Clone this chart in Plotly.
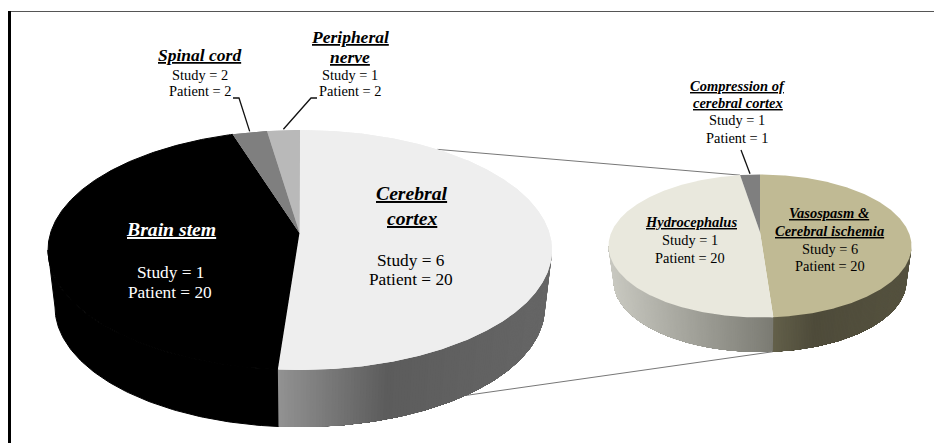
import math
import plotly.graph_objects as go

# ---------- data ----------
main_names = ["Cerebral cortex", "Brain stem", "Spinal cord", "Peripheral nerve"]
main_values = [51.4, 44.3, 2.2, 2.1]
sub_names = ["Vasospasm & Cerebral ischemia", "Hydrocephalus", "Compression of cerebral cortex"]
sub_values = [48.6, 49.3, 2.1]

main_label_lines = [
    ["Cerebral", "cortex"], ["Study = 6", "Patient = 20"],
    ["Brain stem"], ["Study = 1", "Patient = 20"],
    ["Spinal cord"], ["Study = 2", "Patient = 2"],
    ["Peripheral", "nerve"], ["Study = 1", "Patient = 2"],
]
sub_label_lines = [
    ["Vasospasm &", "Cerebral ischemia"], ["Study = 6", "Patient = 20"],
    ["Hydrocephalus"], ["Study = 1", "Patient = 20"],
    ["Compression of", "cerebral cortex"], ["Study = 1", "Patient = 1"],
]

# ---------- styles / geometry ----------
MAIN = dict(cx=300, top_cy=250, rx=252, ry=120, bot_cy=307, brx=245, bry=120, apex=(299.5, 233))
SUB = dict(cx=760, top_cy=246, rx=151.5, ry=71.5, bot_cy=281, brx=146.5, bry=71, apex=(760, 232))
main_colors = ["#eeeeee", "#000000", "#7f7f7f", "#b9b9b9"]
sub_colors = ["#c0ba94", "#e9e8dd", "#7f7f7f"]
FONT = "Liberation Serif"


def top_pt(g, t):
    r = math.radians(t)
    return g["cx"] + g["rx"] * math.sin(r), g["top_cy"] - g["ry"] * math.cos(r)


def bot_pt(g, t):
    r = math.radians(t)
    return g["cx"] + g["brx"] * math.sin(r), g["bot_cy"] - g["bry"] * math.cos(r)


def cumulative(values):
    total = sum(values)
    angs, acc = [], 0.0
    for v in values:
        angs.append((acc * 360 / total, (acc + v) * 360 / total))
        acc += v
    return angs


def lerp_color(stops, f):
    for (a, ca), (b, cb) in zip(stops, stops[1:]):
        if f <= b:
            k = (f - a) / (b - a) if b > a else 0
            return "rgb(%d,%d,%d)" % tuple(round(x + (y - x) * k) for x, y in zip(ca, cb))
    return "rgb(%d,%d,%d)" % stops[-1][1]


fig = go.Figure()


def poly(xs, ys, color, edge=0):
    fig.add_trace(go.Scatter(x=xs, y=ys, mode="lines", fill="toself", fillcolor=color,
                             line=dict(color=color, width=edge), hoverinfo="skip", showlegend=False))


def wall_band(g, t0, t1, color, edge=0):
    n = max(int(t1 - t0), 2)
    ts = [t0 + (t1 - t0) * i / n for i in range(n + 1)]
    pts = [top_pt(g, t) for t in ts] + [bot_pt(g, t) for t in reversed(ts)]
    poly([p[0] for p in pts], [p[1] for p in pts], color, edge)


def wall(g, t0, t1, stops=None, color=None):
    """Visible side wall between angles t0..t1 (clockwise from top)."""
    t0, t1 = max(t0, 90), min(t1, 270)
    if t1 <= t0:
        return
    if color:
        wall_band(g, t0, t1, color, edge=1)
        return
    x_hi, x_lo = max(top_pt(g, t0)[0], top_pt(g, t1)[0]), min(top_pt(g, t0)[0], top_pt(g, t1)[0])
    n = 130
    # painter's order: every band runs to the far end, so no seams appear
    for i in range(n):
        a = t0 + (t1 - t0) * i / n
        xm = top_pt(g, a + (t1 - t0) / (2 * n))[0]
        f = (x_hi - xm) / (x_hi - x_lo)
        wall_band(g, a, t1, lerp_color(stops, f))


def sector(g, t0, t1, color, edge=0.0):
    n = max(int(t1 - t0), 2) * 2
    pts = [g["apex"]] + [top_pt(g, t0 + (t1 - t0) * i / n) for i in range(n + 1)]
    poly([p[0] for p in pts], [p[1] for p in pts], color, edge)


main_ang = cumulative(main_values)
sub_ang = cumulative(sub_values)

# gradient stops: f = 0 at the slice's right end ... 1 at its left end
main_wall_stops = [(0, (0x66, 0x66, 0x66)), (0.6, (0x5c, 0x5c, 0x5c)), (1, (0x92, 0x92, 0x92))]
hydro_stops = [(0, (0x7b, 0x7b, 0x73)), (1, (0xc9, 0xc9, 0xc1))]
vaso_stops = [(0, (0x55, 0x52, 0x3f)), (0.7, (0x4e, 0x4b, 0x3a)), (1, (0x63, 0x60, 0x4a))]

# connector lines behind the pies
upper_a = top_pt(MAIN, 33)
lower_a = bot_pt(MAIN, 137.5)
upper_b = top_pt(SUB, 352.4)
lower_b = bot_pt(SUB, sub_ang[0][1])
for a, b in ((upper_a, upper_b), (lower_a, lower_b)):
    fig.add_trace(go.Scatter(x=[a[0], b[0]], y=[a[1], b[1]], mode="lines",
                             line=dict(color="#777777", width=1), hoverinfo="skip", showlegend=False))

# main pie
wall(MAIN, *main_ang[0], stops=main_wall_stops)
wall(MAIN, *main_ang[1], color=main_colors[1])
for (t0, t1), c in zip(main_ang, main_colors):
    sector(MAIN, t0, t1, c, edge=1 if c == "#000000" else 0)
# redraw the light slice's edge so the black outline does not bleed over it
sector(MAIN, *main_ang[0], main_colors[0])
sector(MAIN, *main_ang[3], main_colors[3])
sector(MAIN, *main_ang[2], main_colors[2])

# secondary pie
wall(SUB, *sub_ang[0], stops=vaso_stops)
wall(SUB, *sub_ang[1], stops=hydro_stops)
for (t0, t1), c in zip(sub_ang, sub_colors):
    sector(SUB, t0, t1, c)

# leader lines
spinal_mid = top_pt(MAIN, (main_ang[2][0] + main_ang[2][1]) / 2)
periph_mid = top_pt(MAIN, (main_ang[3][0] + main_ang[3][1]) / 2)
comp_mid = top_pt(SUB, (sub_ang[2][0] + sub_ang[2][1]) / 2)
leaders = [
    ([233, 239], [98, 98], spinal_mid),
    ([317, 311], [98, 98], periph_mid),
    ([741], [150], comp_mid),
]
for xs, ys, end in leaders:
    fig.add_trace(go.Scatter(x=xs + [end[0]], y=ys + [end[1] - 1], mode="lines",
                             line=dict(color="#111111", width=1.3), hoverinfo="skip", showlegend=False))

# ---------- text ----------
HEAD_BIG, BODY_BIG, HEAD_SMALL, BODY_SMALL = 19.7, 17.3, 17.5, 14.4
label_layout = [
    # lines, x, [y...], size, is_head, colour
    (main_label_lines[0], 412, [193, 218], HEAD_BIG, True, "#000000"),
    (main_label_lines[1], 411, [260, 279], BODY_BIG, False, "#000000"),
    (main_label_lines[2], 171, [229], HEAD_BIG, True, "#ffffff"),
    (main_label_lines[3], 170, [272, 292], BODY_BIG, False, "#ffffff"),
    (main_label_lines[4], 199, [55], HEAD_SMALL, True, "#000000"),
    (main_label_lines[5], 200, [75, 91], BODY_SMALL, False, "#000000"),
    (main_label_lines[6], 350, [37, 57], HEAD_SMALL, True, "#000000"),
    (main_label_lines[7], 350, [75, 91], BODY_SMALL, False, "#000000"),
    (sub_label_lines[0], 829.5, [213, 231], 14.5, True, "#000000"),
    (sub_label_lines[1], 829.5, [249, 266], 14.4, False, "#000000"),
    (sub_label_lines[2], 691, [222], 14.5, True, "#000000"),
    (sub_label_lines[3], 690, [240, 258], 14.4, False, "#000000"),
    (sub_label_lines[4], 737.5, [86, 103], 14.5, True, "#000000"),
    (sub_label_lines[5], 737, [120, 138], 14.4, False, "#000000"),
]
annots = []
for lines, x, ys, size, head, col in label_layout:
    for line, y in zip(lines, ys):
        annots.append(dict(x=x, y=y, xref="x", yref="y", showarrow=False, xanchor="center", yanchor="middle",
                           text=f"<b><i><u>{line.replace('&', '&amp;')}</u></i></b>" if head else line,
                           font=dict(family=FONT, size=size, color=col)))

fig.update_layout(
    width=934, height=443, margin=dict(l=0, r=0, t=0, b=0),
    paper_bgcolor="#ffffff", plot_bgcolor="#ffffff", showlegend=False,
    xaxis=dict(range=[0, 934], visible=False, fixedrange=True),
    yaxis=dict(range=[443, 0], visible=False, fixedrange=True),
    annotations=annots,
    shapes=[
        dict(type="line", xref="x", yref="y", x0=8, x1=934, y0=11.5, y1=11.5, line=dict(color="#555555", width=1.2)),
        dict(type="line", xref="x", yref="y", x0=9.5, x1=9.5, y0=11, y1=443, line=dict(color="#000000", width=3)),
    ],
)

fig.write_html("out.html", config=dict(displayModeBar=False),
               post_script="document.body.style.margin='0';document.body.style.overflow='hidden';")
